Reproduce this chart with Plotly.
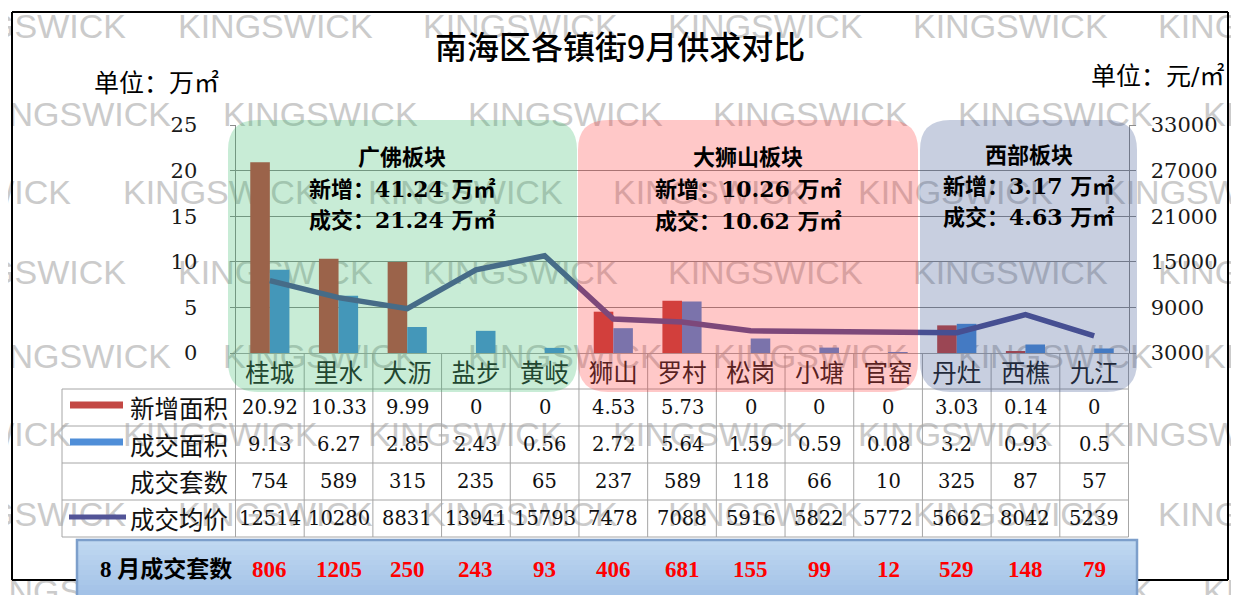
import plotly.graph_objects as go

# ---------------- data ----------------
categories = ["桂城", "里水", "大沥", "盐步", "黄岐", "狮山", "罗村", "松岗", "小塘", "官窑", "丹灶", "西樵", "九江"]
new_area = [20.92, 10.33, 9.99, 0, 0, 4.53, 5.73, 0, 0, 0, 3.03, 0.14, 0]
deal_area = [9.13, 6.27, 2.85, 2.43, 0.56, 2.72, 5.64, 1.59, 0.59, 0.08, 3.2, 0.93, 0.5]
deal_units = [754, 589, 315, 235, 65, 237, 589, 118, 66, 10, 325, 87, 57]
avg_price = [12514, 10280, 8831, 13941, 15793, 7478, 7088, 5916, 5822, 5772, 5662, 8042, 5239]
aug_units = [806, 1205, 250, 243, 93, 406, 681, 155, 99, 12, 529, 148, 79]
left_ticks = [0, 5, 10, 15, 20, 25]
right_ticks = [3000, 9000, 15000, 21000, 27000, 33000]
row_labels = ["新增面积", "成交面积", "成交套数", "成交均价"]
region_names = ["广佛板块", "大狮山板块", "西部板块"]
region_members = [[0, 1, 2, 3, 4], [5, 6, 7, 8, 9], [10, 11, 12]]
title_text = "南海区各镇街9月供求对比"
unit_left = "单位：万㎡"
unit_right = "单位：元/㎡"
aug_label = "8 月成交套数"
watermark = "KINGSWICK"

# ---------------- geometry / style ----------------
OFF = 8                      # page body margin of the html
W, H = 1239 - OFF, 595 - OFF  # figure size
PX_L, PX_R, PX_T, PX_B = 235.5, 1128.5, 125, 353   # plot area in page pixels
N = len(categories)
step = (PX_R - PX_L) / N

RED = "#c34844"
BLUE = "#4f8ed8"
PURPLE = "#525497"
GRID = "#8e8e8e"
TABLE = "#a6a6a6"
SERIF = "DejaVu Serif, Noto Sans CJK SC"
CJK = "Noto Sans CJK SC"


def xp(px):
    return (px - OFF) / W


def yp(py):
    return 1 - (py - OFF) / H


def col_edge(k):
    return PX_L + k * step


fig = go.Figure()

# watermark on a full-page background subplot (x, y) in page pixels, beneath the chart subplot
WM_W = 193
wm_rows = [29, 117, 195, 275, 359, 437, 517, 597]
wm_offsets = [-67, -22, -122]
wx, wy, wpos = [], [], []
for r, py in enumerate(wm_rows):
    sx = wm_offsets[r % 3]
    while sx < 1239:
        if sx >= OFF:
            wx.append(sx - OFF)
            wpos.append("middle right")
        else:
            wx.append(sx + WM_W - OFF)
            wpos.append("middle left")
        wy.append(min(py - OFF, H - 1))
        sx += 245
fig.add_trace(go.Scatter(
    x=wx, y=wy, xaxis="x", yaxis="y", mode="text", text=[watermark] * len(wx),
    textposition=wpos,
    textfont=dict(family="Liberation Sans, Arial", size=34, color="#cbcbcb"),
    cliponaxis=False, hoverinfo="skip", showlegend=False))

x_idx = list(range(N))
fig.add_trace(go.Bar(x=x_idx, y=new_area, name=row_labels[0], xaxis="x2", yaxis="y2",
                     marker=dict(color=RED, line=dict(width=0)), showlegend=False))
fig.add_trace(go.Bar(x=x_idx, y=deal_area, name=row_labels[1], xaxis="x2", yaxis="y2",
                     marker=dict(color=BLUE, line=dict(width=0)), showlegend=False))
fig.add_trace(go.Scatter(x=x_idx, y=avg_price, name=row_labels[3], xaxis="x2", yaxis="y3",
                         mode="lines", line=dict(color=PURPLE, width=5.5), showlegend=False))

shapes = []
annotations = []


def hline(y, x0, x1, color, width=1):
    shapes.append(dict(type="line", xref="paper", yref="paper", x0=xp(x0), x1=xp(x1),
                       y0=yp(y), y1=yp(y), line=dict(color=color, width=width), layer="above"))


def vline(x, y0, y1, color, width=1):
    shapes.append(dict(type="line", xref="paper", yref="paper", x0=xp(x), x1=xp(x),
                       y0=yp(y0), y1=yp(y1), line=dict(color=color, width=width), layer="above"))


# table grid
row_lines = [389, 426, 463, 500, 537]
for y in row_lines:
    hline(y, 62, PX_R, TABLE)
vline(62, 389, 537, TABLE)
for k in range(N + 1):
    vline(col_edge(k), PX_B, 537, TABLE)

# legend keys in table
hline(405, 70, 123, RED, 7)
hline(442, 70, 123, BLUE, 7)
hline(517, 69, 126, PURPLE, 5)

# outer frame
hline(12, 12, 1228, "black", 2)
hline(580, 12, 1228, "black", 2)
vline(12, 12, 580, "black", 2)
vline(1228, 12, 580, "black", 2)


def rrect(x0, y0, x1, y1, r):
    X, Y = xp, yp
    return (f"M {X(x0 + r)},{Y(y0)} L {X(x1 - r)},{Y(y0)} Q {X(x1)},{Y(y0)} {X(x1)},{Y(y0 + r)} "
            f"L {X(x1)},{Y(y1 - r)} Q {X(x1)},{Y(y1)} {X(x1 - r)},{Y(y1)} "
            f"L {X(x0 + r)},{Y(y1)} Q {X(x0)},{Y(y1)} {X(x0)},{Y(y1 - r)} "
            f"L {X(x0)},{Y(y0 + r)} Q {X(x0)},{Y(y0)} {X(x0 + r)},{Y(y0)} Z")


# region overlays (semi-transparent, above the marks)
region_px = [(228, 577), (578, 918), (920, 1137)]
region_fill = ["rgba(35,179,91,0.25)", "rgba(255,35,35,0.25)", "rgba(35,63,131,0.25)"]
region_text_y = [(157, 189, 220), (157, 189, 221), (155, 186, 217)]
for (x0, x1), fill, name, members, ty in zip(region_px, region_fill, region_names,
                                            region_members, region_text_y):
    shapes.append(dict(type="path", xref="paper", yref="paper", path=rrect(x0, 120, x1, 392, 30),
                       fillcolor=fill, line=dict(width=0), layer="above"))
    cx = (x0 + x1) / 2
    s_new = sum(new_area[i] for i in members)
    s_deal = sum(deal_area[i] for i in members)
    lines = [name, f"新增：{s_new:.2f} 万㎡", f"成交：{s_deal:.2f} 万㎡"]
    for txt, y in zip(lines, ty):
        annotations.append(dict(text=f"<b>{txt}</b>", xref="paper", yref="paper", x=xp(cx), y=yp(y),
                                showarrow=False, xanchor="center", yanchor="middle",
                                font=dict(family=SERIF, size=22, color="black")))

# bottom box with gradient
bx0, bx1, by0, by1 = 77, 1137, 540, 600
nb = 12
c_top = (192, 216, 241)
c_bot = (160, 192, 230)
for i in range(nb):
    t = i / (nb - 1)
    c = tuple(round(a + (b - a) * t) for a, b in zip(c_top, c_bot))
    ya = by0 + (by1 - by0) * i / nb
    yb = by0 + (by1 - by0) * (i + 1) / nb
    shapes.append(dict(type="rect", xref="paper", yref="paper", x0=xp(bx0), x1=xp(bx1),
                       y0=yp(ya), y1=yp(yb + 0.5), fillcolor=f"rgb{c}", line=dict(width=0),
                       layer="above"))
shapes.append(dict(type="rect", xref="paper", yref="paper", x0=xp(bx0), x1=xp(bx1),
                   y0=yp(by0), y1=yp(by1), fillcolor="rgba(0,0,0,0)",
                   line=dict(color="#7d9fcb", width=2.5), layer="above"))

# title & units
annotations.append(dict(text=title_text, xref="paper", yref="paper", x=xp(620), y=yp(45),
                        showarrow=False, xanchor="center", yanchor="middle",
                        font=dict(family=CJK, size=32, color="black", weight=500)))
annotations.append(dict(text=unit_left, xref="paper", yref="paper", x=xp(92), y=yp(83),
                        showarrow=False, xanchor="left", yanchor="middle",
                        font=dict(family=SERIF, size=25, color="black")))
annotations.append(dict(text=unit_right, xref="paper", yref="paper", x=xp(1226), y=yp(77),
                        showarrow=False, xanchor="right", yanchor="middle",
                        font=dict(family=SERIF, size=25, color="black")))

# table text
row_y = [407.5, 444.5, 481.5, 518.5]
for lab, y in zip(row_labels, row_y):
    annotations.append(dict(text=lab, xref="paper", yref="paper", x=xp(179), y=yp(y),
                            showarrow=False, xanchor="center", yanchor="middle",
                            font=dict(family=CJK, size=24.5, color="#111111")))
table_rows = [[f"{v:g}" for v in new_area], [f"{v:g}" for v in deal_area],
              [str(v) for v in deal_units], [str(v) for v in avg_price]]
for vals, y in zip(table_rows, row_y):
    for i, v in enumerate(vals):
        annotations.append(dict(text=v, xref="x2", yref="paper", x=i, y=yp(y),
                                showarrow=False, xanchor="center", yanchor="middle",
                                font=dict(family=SERIF, size=19.5, color="#111111")))

# bottom row text
annotations.append(dict(text=f"<b>{aug_label}</b>", xref="paper", yref="paper", x=xp(166), y=yp(569),
                        showarrow=False, xanchor="center", yanchor="middle",
                        font=dict(family="Liberation Serif, Noto Sans CJK SC", size=23, color="black")))
for i, v in enumerate(aug_units):
    annotations.append(dict(text=f"<b>{v}</b>", xref="x2", yref="paper", x=i, y=yp(569),
                            showarrow=False, xanchor="center", yanchor="middle",
                            font=dict(family="Liberation Serif", size=23, color="#ff0000")))

fig.update_layout(
    width=W, height=H, autosize=False,
    margin=dict(l=0, r=0, t=0, b=0, pad=0),
    paper_bgcolor="white", plot_bgcolor="rgba(0,0,0,0)",
    barmode="group", bargap=0.43, bargroupgap=0,
    showlegend=False,
    xaxis=dict(domain=[0, 1], range=[0, W], visible=False, fixedrange=True),
    yaxis=dict(domain=[0, 1], range=[H, 0], visible=False, fixedrange=True),
    xaxis2=dict(anchor="y2", domain=[xp(PX_L), xp(PX_R)], range=[-0.5, N - 0.5], tickmode="array",
                tickvals=x_idx, ticktext=categories, showgrid=False, zeroline=False,
                showline=True, linecolor=TABLE, linewidth=1, ticks="", tickangle=0,
                ticklabelstandoff=-1, automargin=False,
                tickfont=dict(family=CJK, size=24.5, color="#222222")),
    yaxis2=dict(anchor="x2", domain=[yp(PX_B), yp(PX_T)], range=[0, 25], tickmode="array",
                tickvals=left_ticks, ticktext=[str(v) for v in left_ticks],
                showgrid=True, gridcolor=GRID, gridwidth=1, zeroline=False,
                showline=True, linecolor=GRID, linewidth=1, ticks="outside", ticklen=5,
                tickcolor=GRID, ticklabelstandoff=28, automargin=False,
                tickfont=dict(family=SERIF, size=21, color="#1a1a1a")),
    yaxis3=dict(anchor="x2", overlaying="y2", side="right", range=[3000, 33000], tickmode="array",
                tickvals=right_ticks, ticktext=[str(v) for v in right_ticks],
                showgrid=False, zeroline=False,
                showline=True, linecolor=GRID, linewidth=1, ticks="outside", ticklen=6,
                tickcolor=GRID, ticklabelstandoff=11, automargin=False,
                tickfont=dict(family=SERIF, size=21, color="#1a1a1a")),
    shapes=shapes,
    annotations=annotations,
)

fig.write_html("out.html")
